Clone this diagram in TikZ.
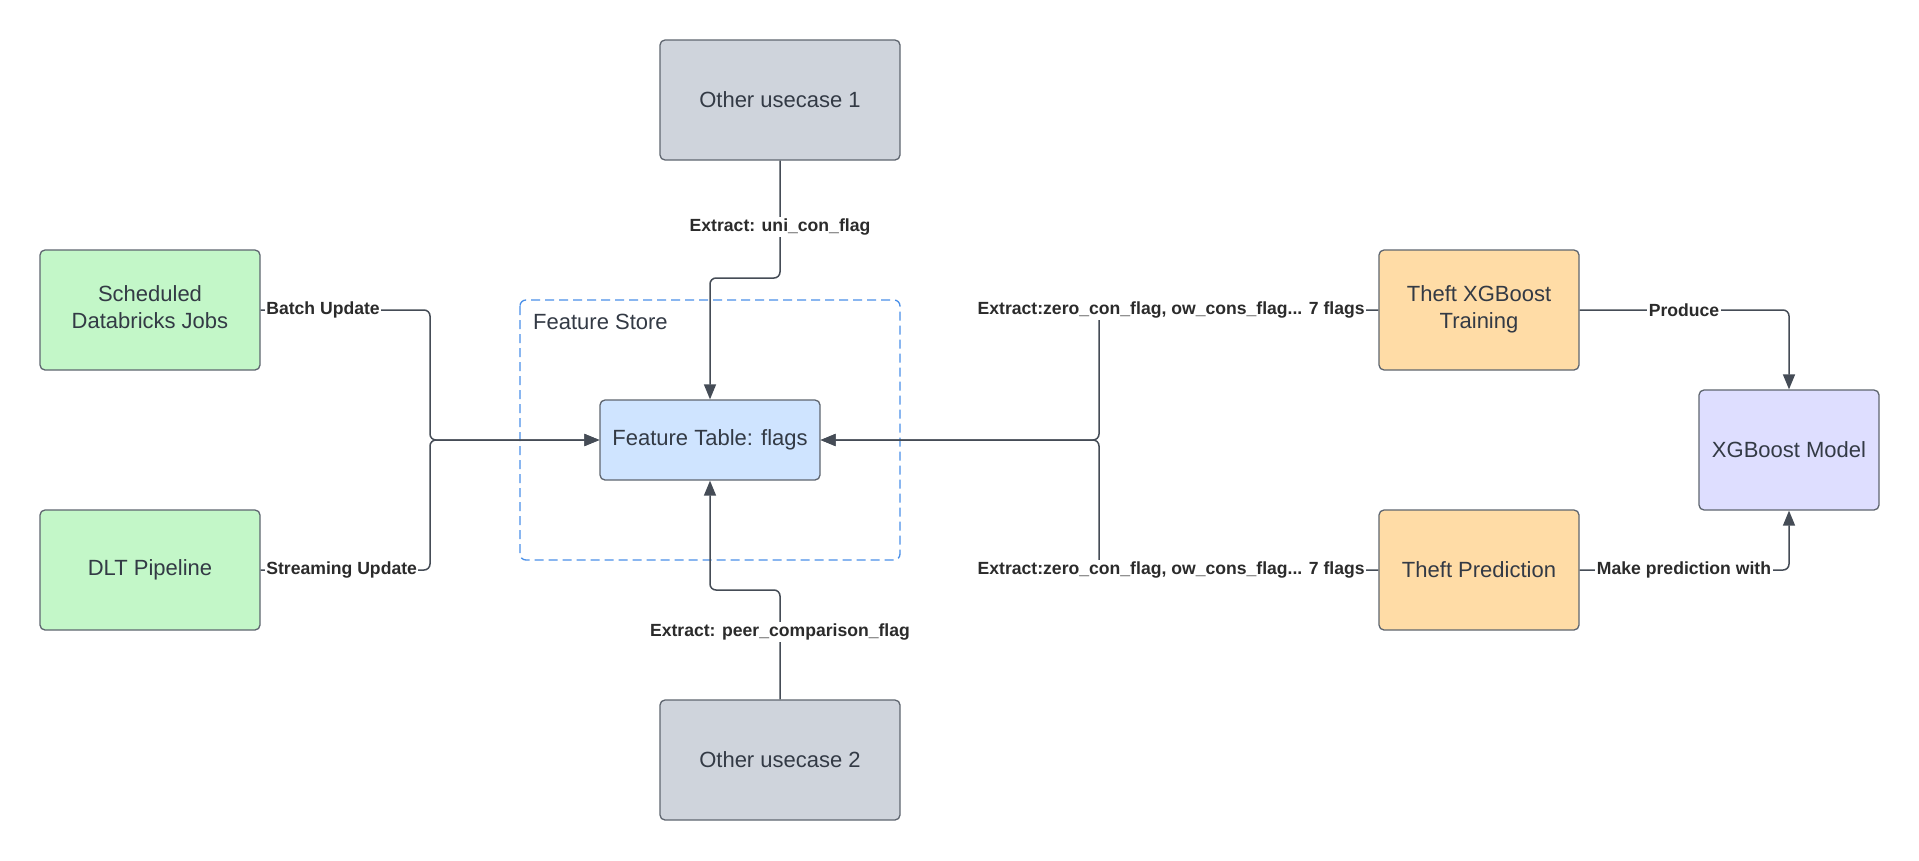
\documentclass[tikz,border=0pt]{standalone}
\usepackage{fontspec}
\setmainfont{Liberation Sans}
\usetikzlibrary{arrows.meta,calc}
\definecolor{txt}{HTML}{333A45}
\definecolor{lbltxt}{HTML}{2B2B2B}
\definecolor{linec}{HTML}{454C56}
\definecolor{boxline}{HTML}{5F6670}
\definecolor{fgreen}{HTML}{C3F7C8}
\definecolor{fgray}{HTML}{CFD4DC}
\definecolor{fblue}{HTML}{CFE4FF}
\definecolor{forange}{HTML}{FFDCA6}
\definecolor{fpurple}{HTML}{DEDEFF}
\definecolor{dashblue}{HTML}{4A90E8}
\tikzset{
  box/.style={draw=boxline, line width=1.3pt, rounded corners=5pt, inner sep=2pt,
    align=center, text=txt, font=\fontsize{22}{27}\selectfont},
  conn/.style={draw=linec, line width=1.5pt, rounded corners=6pt},
  arr/.style={conn, -{Triangle[length=15pt,width=12pt]}},
  lbl/.style={fill=white, inner sep=1.5pt, text=lbltxt, font=\bfseries\fontsize{17.6}{20}\selectfont},
}
\begin{document}
\begin{tikzpicture}[x=1pt,y=-1pt]
\useasboundingbox[fill=white] (0,0) rectangle (1919,860);
% feature store container
\draw[dashblue, line width=1.3pt, dash pattern=on 9pt off 5pt, rounded corners=6pt] (520,300) rectangle (900,560);
\node[anchor=west, text=txt, font=\fontsize{22}{27}\selectfont, inner sep=0pt] (fslbl) at (533,322) {Feature Store};
% nodes
\node[box, fill=fgray, minimum width=240pt, minimum height=120pt] (ou1) at (780,100) {Other usecase 1};
\node[box, fill=fgray, minimum width=240pt, minimum height=120pt] (ou2) at (780,760) {Other usecase 2};
\node[box, fill=fgreen, minimum width=220pt, minimum height=120pt] (sched) at (150,310) {Scheduled\\Databricks Jobs\\[-22pt]\mbox{}};
\node[box, fill=fgreen, minimum width=220pt, minimum height=120pt] (dlt) at (150,570) {DLT Pipeline};
\node[box, fill=fblue, minimum width=220pt, minimum height=80pt] (ft) at (710,440) {Feature Table: flags};
\node[box, fill=forange, minimum width=200pt, minimum height=120pt] (train) at (1479,310) {Theft XGBoost\\Training\\[-22pt]\mbox{}};
\node[box, fill=forange, minimum width=200pt, minimum height=120pt] (pred) at (1479,570) {Theft Prediction};
\node[box, fill=fpurple, minimum width=180pt, minimum height=120pt] (xgb) at (1789,450) {XGBoost Model};
% junction coordinates
\coordinate (j1) at (430,440);
\coordinate (j2) at (1099,440);
\coordinate (m1) at (745,278);
\coordinate (m2) at (745,590);
% left inputs
\draw[arr] (sched.east) -| (j1) -- (ft.west);
\draw[arr] (dlt.east) -| (j1) -- (ft.west);
\node[lbl, anchor=west] (lb1) at ($(sched.east)+(4,0)$) {Batch Update};
\node[lbl, anchor=west] (lb2) at ($(dlt.east)+(4,0)$) {Streaming Update};
% top / bottom
\draw[arr] (ou1.south) |- (m1) -| (ft.north);
\node[lbl] (lb3) at (780,227) {Extract: uni\_con\_flag};
\draw[arr] (ou2.north) |- (m2) -| (ft.south);
\node[lbl] (lb4) at (780,632) {Extract: peer\_comparison\_flag};
% right inputs
\draw[arr] (train.west) -| (j2) -- (ft.east);
\draw[arr] (pred.west) -| (j2) -- (ft.east);
\node[lbl, anchor=east] (lb5) at ($(train.west)+(-12,0)$) {Extract:zero\_con\_flag, ow\_cons\_flag... 7 flags};
\node[lbl, anchor=east] (lb6) at ($(pred.west)+(-12,0)$) {Extract:zero\_con\_flag, ow\_cons\_flag... 7 flags};
% model
\draw[arr] (train.east) -| (xgb.north);
\node[lbl] (lb7) at (1684,310) {Produce};
\draw[arr] (pred.east) -| (xgb.south);
\node[lbl] (lb8) at (1684,570) {Make prediction with};
\end{tikzpicture}
\end{document}
